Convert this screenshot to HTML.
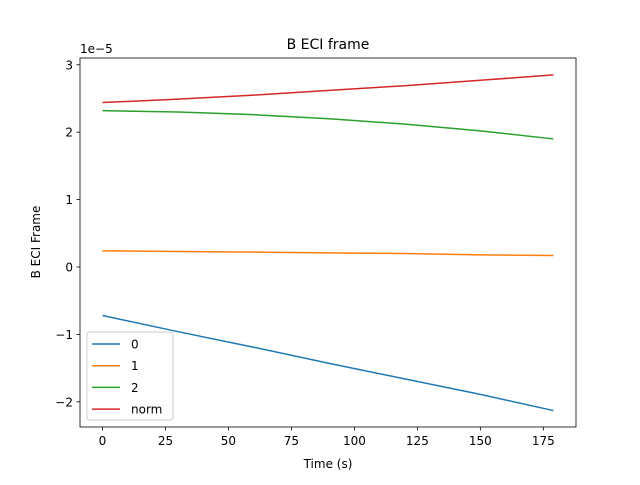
<!DOCTYPE html>
<html><head><meta charset="utf-8"><style>
body{margin:0;background:#fff}
text{font-family:"DejaVu Sans","Liberation Sans",sans-serif;fill:#000}
</style></head><body>
<svg id="chart" width="640" height="480" xmlns="http://www.w3.org/2000/svg">
<rect width="640" height="480" fill="#fff"/>
<text x="328" y="49" font-size="14" text-anchor="middle">B ECI frame</text>
<text x="80" y="53" font-size="12">1e−5</text>
<text x="328" y="468" font-size="12" text-anchor="middle">Time (s)</text>
<text transform="translate(40,242) rotate(-90)" font-size="12" text-anchor="middle">B ECI Frame</text>
<g id="marks"></g>
<rect x="80" y="58" width="496" height="369" fill="none" stroke="#000" stroke-width="0.8"/>
<g id="axes"></g>
<g id="legend"></g>
</svg>
<script>
const times=[0,30,60,90,120,150,179];
const s0=[-0.72,-0.96,-1.19,-1.43,-1.66,-1.89,-2.13];
const s1=[0.24,0.23,0.22,0.21,0.20,0.18,0.17];
const s2=[2.32,2.30,2.26,2.20,2.12,2.02,1.90];
const sNorm=[2.44,2.49,2.55,2.62,2.69,2.77,2.85];
const xTicks=[0,25,50,75,100,125,150,175];
const yTicks=[-2,-1,0,1,2,3];
const seriesNames=["0","1","2","norm"];
const colors=["#1f77b4","#ff7f0e","#2ca02c","#d62728"];
const NS="http://www.w3.org/2000/svg";
const X=v=>102.5+v*2.519;
const Y=v=>267-v*67.4;
function mk(t,a,p){const e=document.createElementNS(NS,t);for(const k in a)e.setAttribute(k,a[k]);p.appendChild(e);return e;}
const axes=document.getElementById('axes');
xTicks.forEach(t=>{const x=X(t);
 const l=mk('line',{x1:x,x2:x,y1:427,y2:430.5,stroke:'#000','stroke-width':0.8},axes);
 
 
 const tx=mk('text',{x:x,y:445,'font-size':12,'text-anchor':'middle'},axes);tx.textContent=t;
 
 });
yTicks.forEach(t=>{const y=Y(t);
 const l=mk('line',{x1:76.5,x2:80,y1:y,y2:y,stroke:'#000','stroke-width':0.8},axes);
 
 
 const tx=mk('text',{x:73,y:y+4.5,'font-size':12,'text-anchor':'end'},axes);tx.textContent=t<0?'−'+(-t):t;
 
 });
const marks=document.getElementById('marks');
[s0,s1,s2,sNorm].forEach((s,i)=>{
 const p=mk('polyline',{points:s.map((v,j)=>X(times[j])+','+Y(v)).join(' '),fill:'none',stroke:colors[i],'stroke-width':1.5},marks);
 
 });
const lg=document.getElementById('legend');
mk('rect',{x:87,y:332,width:86,height:88,rx:3,fill:'#fff','fill-opacity':0.8,stroke:'#ccc'},lg);
seriesNames.forEach((n,i)=>{const y=344+i*21.7;
 const l=mk('line',{x1:92,x2:120,y1:y,y2:y,stroke:colors[i],'stroke-width':1.5},lg);
 
 
 const t=mk('text',{x:131,y:y+4.5,'font-size':12},lg);t.textContent=n;
 
 });
</script>
</body></html>
